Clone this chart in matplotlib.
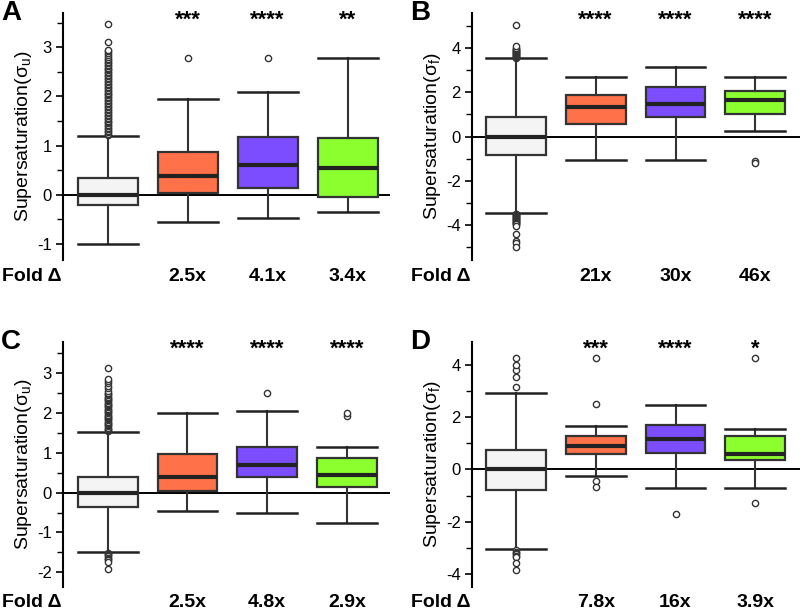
import matplotlib
matplotlib.use("Agg")
import matplotlib.pyplot as plt
from matplotlib.ticker import MultipleLocator

plt.rcParams['font.family'] = ['Liberation Sans', 'DejaVu Sans']

colors = ["#f4f4f4", "#ff7148", "#7b4dff", "#8cff2e"]

# ---------- Panel A ----------
A_q1 = [-0.22, 0.03, 0.14, -0.05]
A_med = [0.0, 0.39, 0.61, 0.54]
A_q3 = [0.35, 0.87, 1.18, 1.16]
A_lo = [-1.0, -0.55, -0.47, -0.35]
A_hi = [1.2, 1.95, 2.1, 2.78]
A_fliers = [
    [1.21, 1.24, 1.27, 1.30, 1.33, 1.36, 1.39, 1.42, 1.45, 1.48, 1.51, 1.54,
     1.57, 1.60, 1.63, 1.66, 1.69, 1.72, 1.75, 1.78, 1.81, 1.84, 1.87, 1.90,
     1.93, 1.96, 1.99, 2.02, 2.05, 2.08, 2.11, 2.14, 2.17, 2.20, 2.23, 2.26,
     2.29, 2.32, 2.35, 2.38, 2.41, 2.44, 2.47, 2.50, 2.53, 2.56, 2.59, 2.62,
     2.65, 2.68, 2.71, 2.74, 2.77, 2.80, 2.84, 2.88, 2.92, 2.95, 3.1, 3.47],
    [2.78],
    [2.78],
    [],
]
A_stars = ["", "***", "****", "**"]
A_fold = ["", "2.5x", "4.1x", "3.4x"]

# ---------- Panel B ----------
B_q1 = [-0.85, 0.55, 0.9, 1.0]
B_med = [0.0, 1.32, 1.48, 1.65]
B_q3 = [0.9, 1.87, 2.25, 2.05]
B_lo = [-3.45, -1.05, -1.05, 0.25]
B_hi = [3.55, 2.7, 3.15, 2.7]
B_fliers = [
    [3.58, 3.61, 3.64, 3.67, 3.7, 3.73, 3.76, 3.79, 3.82, 3.85, 3.88, 3.91,
     3.94, 3.97, 4.0, 4.1, 5.05,
     -3.5, -3.53, -3.56, -3.59, -3.62, -3.65, -3.68, -3.71, -3.74, -3.77, -3.8,
     -3.83, -3.86, -3.89, -3.92, -3.95, -3.98, -4.05,
     -4.4, -4.75, -4.85, -5.0],
    [],
    [],
    [-1.1, -1.2],
]
B_stars = ["", "****", "****", "****"]
B_fold = ["", "21x", "30x", "46x"]

# ---------- Panel C ----------
C_q1 = [-0.35, 0.03, 0.38, 0.15]
C_med = [0.0, 0.39, 0.68, 0.45]
C_q3 = [0.4, 0.96, 1.15, 0.86]
C_lo = [-1.48, -0.47, -0.52, -0.76]
C_hi = [1.52, 2.0, 2.06, 1.15]
C_fliers = [
    [1.54, 1.57, 1.60, 1.63, 1.66, 1.69, 1.72, 1.75, 1.78, 1.81, 1.84, 1.87,
     1.90, 1.93, 1.96, 1.99, 2.02, 2.05, 2.08, 2.11, 2.14, 2.17, 2.20, 2.23,
     2.26, 2.29, 2.32, 2.35, 2.38, 2.41, 2.44, 2.47, 2.5, 2.55, 2.62, 2.68,
     2.75, 2.8, 2.85, 3.12,
     -1.51, -1.54, -1.57, -1.60, -1.63, -1.66, -1.7, -1.75, -1.93],
    [],
    [2.49],
    [1.92, 2.0],
]
C_stars = ["", "****", "****", "****"]
C_fold = ["", "2.5x", "4.8x", "2.9x"]

# ---------- Panel D ----------
D_q1 = [-0.8, 0.58, 0.62, 0.35]
D_med = [0.0, 0.9, 1.18, 0.6]
D_q3 = [0.75, 1.27, 1.72, 1.3]
D_lo = [-3.05, -0.25, -0.7, -0.7]
D_hi = [2.92, 1.68, 2.45, 1.55]
D_fliers = [
    [3.15, 3.55, 3.8, 4.0, 4.25,
     -3.1, -3.15, -3.2, -3.25, -3.3, -3.35, -3.6, -3.85],
    [4.25, 2.52, -0.45, -0.68],
    [-1.72],
    [4.25, -1.3],
]
D_stars = ["", "***", "****", "*"]
D_fold = ["", "7.8x", "16x", "3.9x"]

W, H = 802, 615
fig = plt.figure(figsize=(W / 100, H / 100), dpi=100)


def px_axes(left, top, right, bottom):
    return fig.add_axes([left / W, 1 - bottom / H, (right - left) / W, (bottom - top) / H])


def panel(ax, q1, med, q3, lo, hi, fliers, stars, fold, ylim, major, minor,
          ylabel_sub, letter, xlim):
    stats = []
    for i in range(4):
        stats.append(dict(q1=q1[i], med=med[i], q3=q3[i], whislo=lo[i],
                          whishi=hi[i], fliers=fliers[i]))
    ax.axhline(0, color="black", lw=1.4, zorder=1)
    bp = ax.bxp(stats, positions=[1, 2, 3, 4], widths=0.75, patch_artist=True,
                showfliers=True,
                boxprops=dict(edgecolor="#333333", linewidth=1.6),
                medianprops=dict(color="#222222", linewidth=3),
                whiskerprops=dict(color="#333333", linewidth=1.5),
                capprops=dict(color="#222222", linewidth=1.8),
                capwidths=0.75,
                flierprops=dict(marker="o", markersize=4.5, markerfacecolor="white",
                                markeredgecolor="#333333", markeredgewidth=1.0),
                zorder=2)
    for patch, c in zip(bp["boxes"], colors):
        patch.set_facecolor(c)
    ax.set_xlim(*xlim)
    ax.set_ylim(*ylim)
    for s in ["top", "right", "bottom"]:
        ax.spines[s].set_visible(False)
    ax.spines["left"].set_linewidth(1.5)
    ax.set_xticks([])
    ax.yaxis.set_major_locator(MultipleLocator(major))
    ax.yaxis.set_minor_locator(MultipleLocator(minor))
    ax.tick_params(axis="y", which="major", length=5, width=1.2, labelsize=12,
                   direction="out", pad=3)
    ax.tick_params(axis="y", which="minor", length=4, width=1.0)
    ax.set_yticklabels([f"{int(t)}" for t in ax.get_yticks()])
    ax.set_ylabel(r"Supersaturation($\mathregular{\sigma_{%s}}$)" % ylabel_sub,
                  fontsize=14, labelpad=2)
    for i in range(4):
        if stars[i]:
            ax.text(i + 1, 0.97, stars[i], transform=ax.get_xaxis_transform(),
                    ha="center", va="center", fontsize=16, fontweight="bold")
        if fold[i]:
            ax.text(i + 1, -0.065, fold[i], transform=ax.get_xaxis_transform(),
                    ha="center", va="center", fontsize=14, fontweight="bold")
    ax.text(-0.186, -0.065, "Fold \u0394", transform=ax.transAxes, ha="left",
            va="center", fontsize=14, fontweight="bold")
    ax.text(-0.19, 1.0, letter, transform=ax.transAxes, ha="left", va="center",
            fontsize=20, fontweight="bold")


axA = px_axes(63, 13, 390, 260)
axB = px_axes(472, 13, 800, 260)
axC = px_axes(63, 342, 390, 587)
axD = px_axes(472, 342, 800, 587)

panel(axA, A_q1, A_med, A_q3, A_lo, A_hi, A_fliers, A_stars, A_fold,
      (-1.33, 3.7), 1, 0.5, "u", "A", (0.44, 4.53))
panel(axB, B_q1, B_med, B_q3, B_lo, B_hi, B_fliers, B_stars, B_fold,
      (-5.6, 5.6), 2, 1, "f", "B", (0.45, 4.56))
panel(axC, C_q1, C_med, C_q3, C_lo, C_hi, C_fliers, C_stars, C_fold,
      (-2.37, 3.78), 1, 0.5, "u", "C", (0.44, 4.54))
panel(axD, D_q1, D_med, D_q3, D_lo, D_hi, D_fliers, D_stars, D_fold,
      (-4.5, 4.88), 2, 1, "f", "D", (0.45, 4.56))

fig.savefig("out.png", dpi=100)
